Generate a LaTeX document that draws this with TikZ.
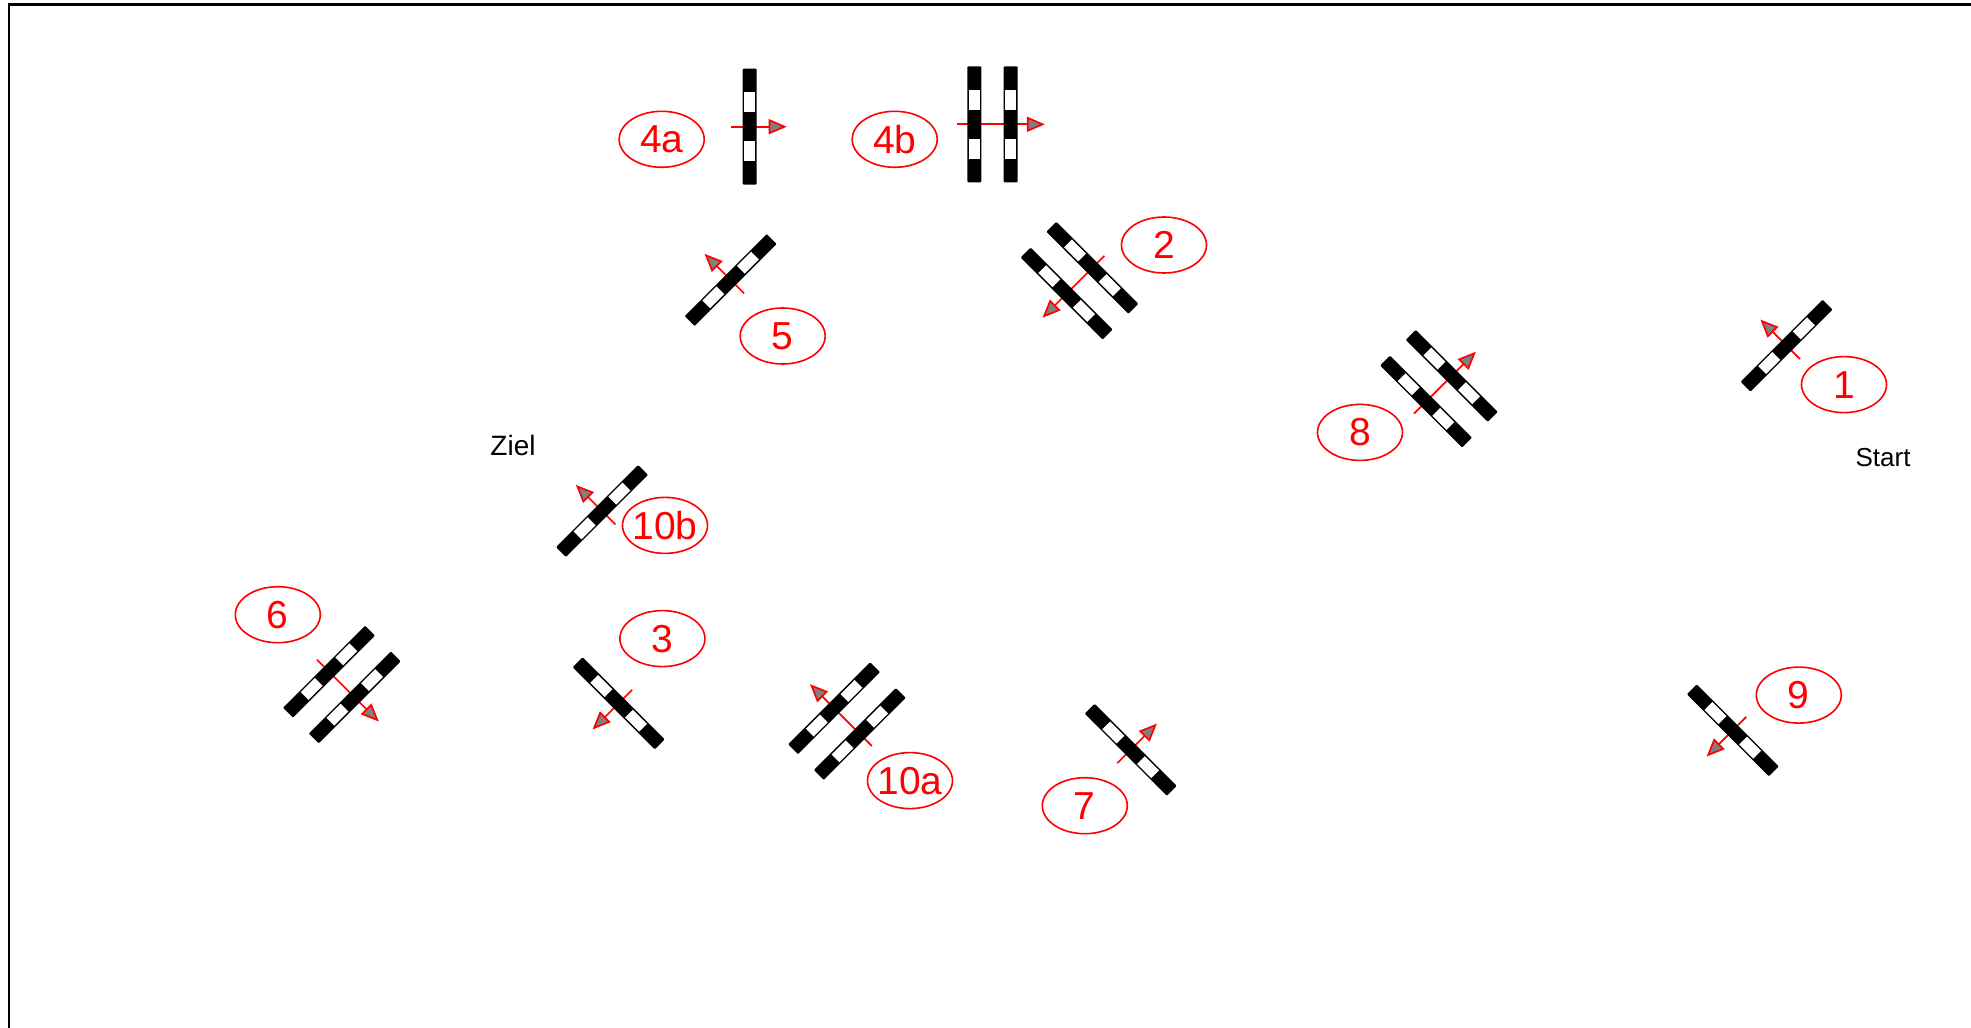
\documentclass[tikz,border=0pt]{standalone}
\usepackage{fontspec}
\setmainfont{Liberation Sans}
\usetikzlibrary{shapes.geometric,arrows.meta}
\definecolor{tag}{RGB}{255,0,0}
\tikzset{
  bar/.style={rectangle, fill=black, rounded corners=1pt, minimum width=14pt, minimum height=116pt, inner sep=0pt, transform shape},
  hole/.style={rectangle, fill=white, minimum width=11pt, minimum height=20pt, inner sep=0pt, transform shape},
  flow/.style={draw=tag, line width=1.7pt, -{Triangle[length=18pt,width=15pt,fill=gray]}},
  tagnum/.style={ellipse, draw=tag, text=tag, line width=1.6pt, minimum width=85pt, minimum height=56pt, inner xsep=-4pt, inner ysep=0pt, font=\fontsize{39}{42}\selectfont},
  lbl/.style={inner sep=0pt, font=\fontsize{26}{30}\selectfont},
  frameline/.style={draw=black, line width=2.2pt},
  gate/.pic={
    \coordinate (-tail) at (-19,0);
    \coordinate (-tip) at (37,0);
    \draw[flow] (-tail)--(-tip);
    \node[bar] (-a) at (0,0) {};
    \node[hole] (-h1) at (0,-24.5) {};
    \node[hole] (-h2) at (0,24.5) {};
  },
  dgate/.pic={
    \coordinate (-tail) at (-17,0);
    \coordinate (-tip) at (70.5,0);
    \draw[flow] (-tail)--(-tip);
    \node[bar] (-a) at (0,0) {};
    \node[hole] (-h1) at (0,-24.5) {};
    \node[hole] (-h2) at (0,24.5) {};
    \node[bar] (-b) at (36.4,0) {};
    \node[hole] (-h3) at (36.4,-24.5) {};
    \node[hole] (-h4) at (36.4,24.5) {};
  }
}
\begin{document}
\begin{tikzpicture}[x=1pt,y=-1pt]
  \useasboundingbox (0,0) rectangle (1971,1028);
  \coordinate (fa) at (9,1028);
  \coordinate (fb) at (9,4.5);
  \coordinate (fc) at (1971,4.5);
  \draw[frameline] (fa)--(fb)--(fc);
  % gates
  \pic (g1) [rotate=135] at (1786.5,345.7) {gate};
  \pic (g2) [rotate=225] at (1092.4,267.8) {dgate};
  \pic (g3) [rotate=225] at (618.7,703.3) {gate};
  \pic (g4a) at (749.7,126.7) {gate};
  \pic (g4b) at (974.3,124.3) {dgate};
  \pic (g5) [rotate=135] at (730.7,280) {gate};
  \pic (g6) [rotate=-45] at (329,671.7) {dgate};
  \pic (g7) [rotate=45] at (1130.7,749.8) {gate};
  \pic (g8) [rotate=45] at (1426,401.6) {dgate};
  \pic (g9) [rotate=225] at (1732.8,730.3) {gate};
  \pic (g10a) [rotate=135] at (859.8,734) {dgate};
  \pic (g10b) [rotate=135] at (602,511) {gate};
  % numbers
  \node[tagnum] (n1) at (1844,384.6) {1};
  \node[tagnum] (n2) at (1164,245) {2};
  \node[tagnum] (n3) at (662.4,638.6) {3};
  \node[tagnum] (n4a) at (661.7,139.3) {4a};
  \node[tagnum] (n4b) at (894.7,139.3) {4b};
  \node[tagnum] (n5) at (782.7,336) {5};
  \node[tagnum] (n6) at (277.8,614.7) {6};
  \node[tagnum] (n7) at (1084.8,805.7) {7};
  \node[tagnum] (n8) at (1360,432.4) {8};
  \node[tagnum] (n9) at (1798.8,695.1) {9};
  \node[tagnum] (n10a) at (910,780.6) {10a};
  \node[tagnum] (n10b) at (665,525.4) {10b};
  \node[lbl, font=\fontsize{28}{30}\selectfont] (ziel) at (513,445) {Ziel};
  \node[lbl] (start) at (1883,457.5) {Start};
\end{tikzpicture}
\end{document}
